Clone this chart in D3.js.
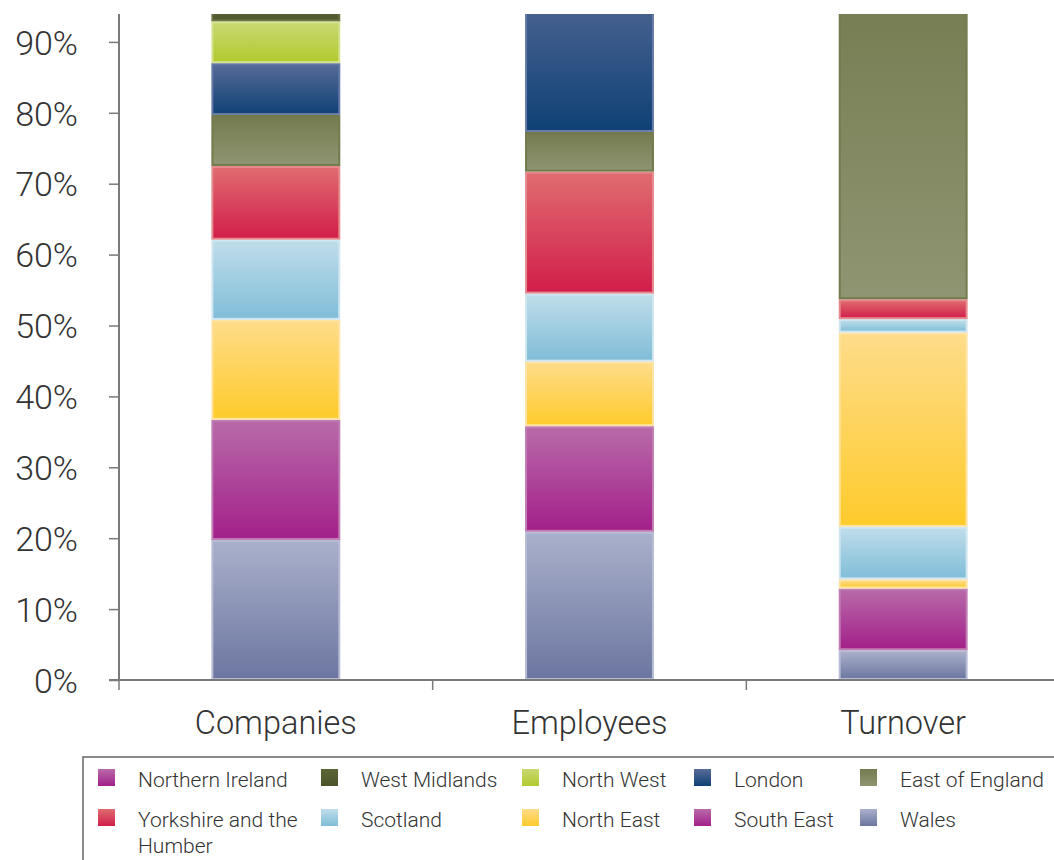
<!DOCTYPE html>
<html>
<head>
<meta charset="utf-8">
<script src="https://cdn.jsdelivr.net/npm/d3@7"></script>
<style>
  html, body { margin: 0; padding: 0; background: #fff; }
  svg { display: block; }
  text { font-family: Roboto, "Liberation Sans", Arial, sans-serif; font-weight: 300; fill: #333; }
</style>
</head>
<body>
<svg id="chart" width="1054" height="860"></svg>
<script>
// ---------- data ----------
const categories = ["Companies", "Employees", "Turnover"];
// series listed bottom-to-top of the stack
const seriesNames = [
  "Wales", "South East", "North East", "Scotland", "East Midlands", "South West",
  "Yorkshire and the Humber", "East of England", "London", "North West",
  "West Midlands", "Northern Ireland"
];
// percentage share per series, in category order [Companies, Employees, Turnover]
const wales          = [19.75, 20.9, 4.2];
const southEast      = [16.95, 14.9, 8.7];
const northEast      = [14.1,  9.1,  1.3];
const scotland       = [11.3,  9.6,  7.4];
const eastMidlands   = [0,     0,    27.4];
const southWest      = [0,     0,    1.9];
const yorkshire      = [10.4, 17.2,  2.8];
const eastOfEngland  = [7.2,   5.6, 46.3];
const london         = [7.3,  22.7,  0];
const northWest      = [5.9,   0,    0];
const westMidlands   = [1.5,   0,    0];
const northernIreland= [5.6,   0,    0];
const seriesValues = [wales, southEast, northEast, scotland, eastMidlands, southWest,
  yorkshire, eastOfEngland, london, northWest, westMidlands, northernIreland];

const yTicks = [0, 10, 20, 30, 40, 50, 60, 70, 80, 90];
const yTickLabels = ["0%", "10%", "20%", "30%", "40%", "50%", "60%", "70%", "80%", "90%"];

// legend entries (row-wise as shown)
const legendNames = [
  "Northern Ireland", "West Midlands", "North West", "London", "East of England",
  "Yorkshire and the Humber", "Scotland", "North East", "South East", "Wales"
];

// ---------- styles ----------
const styles = {
  "Wales":                    { top: "#aab0cb", bottom: "#6c76a0", stroke: "#b7bbd3" },
  "South East":               { top: "#b86aa9", bottom: "#a3208a", stroke: "#bf7db3" },
  "North East":               { top: "#fedc8a", bottom: "#fecb2c", stroke: "#fee3a2" },
  "Scotland":                 { top: "#bfddea", bottom: "#80bdd8", stroke: "#cfe6f0" },
  "East Midlands":            { top: "#fedc8a", bottom: "#fecb2c", stroke: "#fee3a2" },
  "South West":               { top: "#bfddea", bottom: "#80bdd8", stroke: "#cfe6f0" },
  "Yorkshire and the Humber": { top: "#e06c70", bottom: "#d11e4a", stroke: "#e58a8d" },
  "East of England":          { top: "#747b4f", bottom: "#8f9572", stroke: "#737a4c" },
  "London":                   { top: "#576b98", bottom: "#0f4175", stroke: "#6479a6" },
  "North West":               { top: "#c9d872", bottom: "#b2ca2e", stroke: "#d5e290" },
  "West Midlands":            { top: "#5b6535", bottom: "#4a5429", stroke: "#6b7447" },
  "Northern Ireland":         { top: "#b86aa9", bottom: "#a3208a", stroke: "#bf7db3" }
};

// ---------- layout ----------
const svg = d3.select("#chart");
const W = 1054;
const x0 = 119, x1 = 1060, yBase = 680, plotTop = 14;

const x = d3.scaleBand().domain(categories).range([x0, x1]).padding(0);
const y = d3.scaleLinear().domain([0, 100]).range([yBase, yBase - 709]);
const barW = x.bandwidth() * 0.411;

const defs = svg.append("defs");
seriesNames.forEach((name, i) => {
  const g = defs.append("linearGradient")
    .attr("id", "grad" + i).attr("x1", 0).attr("y1", 0).attr("x2", 0).attr("y2", 1);
  g.append("stop").attr("offset", "0%").attr("stop-color", styles[name].top);
  g.append("stop").attr("offset", "100%").attr("stop-color", styles[name].bottom);
});
defs.append("clipPath").attr("id", "plotClip")
  .append("rect").attr("x", 0).attr("y", plotTop).attr("width", W).attr("height", yBase - plotTop);

// stack
const table = categories.map((c, ci) => {
  const row = { category: c };
  seriesNames.forEach((s, si) => row[s] = seriesValues[si][ci]);
  return row;
});
const stacked = d3.stack().keys(seriesNames)(table);

const bars = svg.append("g").attr("clip-path", "url(#plotClip)");
stacked.forEach((layer, si) => {
  const name = seriesNames[si];
  bars.append("g")
    .selectAll("rect")
    .data(layer.filter(d => d[1] - d[0] > 0))
    .join("rect")
    .attr("x", d => x(d.data.category) + (x.bandwidth() - barW) / 2 + 1)
    .attr("y", d => y(d[1]) + 1)
    .attr("width", barW - 2)
    .attr("height", d => Math.max(0, y(d[0]) - y(d[1]) - 2))
    .attr("fill", "url(#grad" + si + ")")
    .attr("stroke", styles[name].stroke)
    .attr("stroke-width", 2);
});

// axes
const axisColor = "#7a7a7a";
const yAxis = d3.axisLeft(y).tickValues(yTicks).tickSize(10)
  .tickFormat((d, i) => yTickLabels[i]);
const gy = svg.append("g").attr("transform", `translate(${x0},0)`).call(yAxis);
gy.select(".domain").remove();
gy.selectAll(".tick line").attr("stroke", axisColor).attr("stroke-width", 1.5);
gy.selectAll(".tick text")
  .attr("x", -41).attr("dy", "0.36em")
  .style("font-size", "34px").style("font-family", "Roboto, 'Liberation Sans', Arial, sans-serif")
  .style("font-weight", 300).attr("fill", "#333");
svg.append("line").attr("x1", x0).attr("x2", x0).attr("y1", plotTop).attr("y2", yBase)
  .attr("stroke", axisColor).attr("stroke-width", 2);

// x axis
svg.append("line").attr("x1", x0 - 10).attr("x2", W).attr("y1", yBase).attr("y2", yBase)
  .attr("stroke", axisColor).attr("stroke-width", 2);
const bounds = categories.map(c => x(c)).concat([x1]);
svg.append("g").selectAll("line").data(bounds).join("line")
  .attr("x1", d => d).attr("x2", d => d).attr("y1", yBase).attr("y2", yBase + 10)
  .attr("stroke", axisColor).attr("stroke-width", 1.5);
svg.append("g").selectAll("text").data(categories).join("text")
  .attr("x", d => x(d) + x.bandwidth() / 2)
  .attr("y", 734)
  .attr("text-anchor", "middle")
  .style("font-size", "32.5px")
  .text(d => d);

// legend
const lg = svg.append("g");
lg.append("path").attr("d", `M${W + 5},757 H83 V${860 + 5}`)
  .attr("fill", "none").attr("stroke", "#666").attr("stroke-width", 1.5);
const colX = [98, 321, 522, 694, 860];
const rowY = [769, 809];
legendNames.forEach((name, i) => {
  const col = i % 5, row = Math.floor(i / 5);
  const si = seriesNames.indexOf(name);
  const gx = colX[col], gyy = rowY[row];
  lg.append("rect").attr("x", gx).attr("y", gyy).attr("width", 17).attr("height", 17)
    .attr("fill", "url(#grad" + si + ")");
  const t = lg.append("text").attr("x", gx + 40).attr("y", gyy + 18)
    .style("font-size", "21px").attr("fill", "#444");
  // simple word wrap
  const words = name.split(" ");
  let line = [], tspan = t.append("tspan").attr("x", gx + 40).attr("dy", 0);
  words.forEach(w => {
    line.push(w);
    tspan.text(line.join(" "));
    if (tspan.node().getComputedTextLength() > 175 && line.length > 1) {
      line.pop();
      tspan.text(line.join(" "));
      line = [w];
      tspan = t.append("tspan").attr("x", gx + 40).attr("dy", "1.25em").text(w);
    }
  });
});
</script>
</body>
</html>
